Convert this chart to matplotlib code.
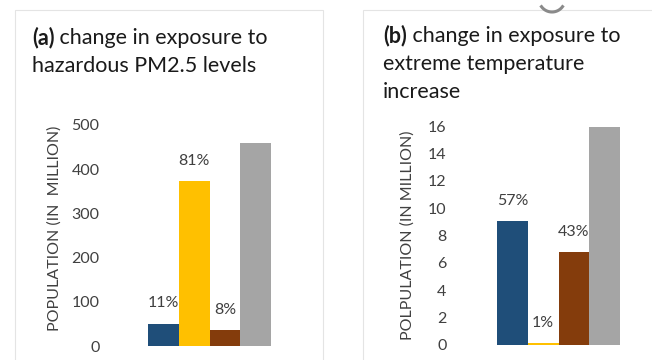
import numpy as np
import matplotlib
matplotlib.use("Agg")
import matplotlib.pyplot as plt
from matplotlib.patches import Rectangle

plt.rcParams['font.family'] = ['Lato', 'DejaVu Sans']

# population exposed (million): blue, yellow, brown, total (gray)
pm25_vals = [50.6, 372.6, 36.8, 460]
pm25_pct = ['11%', '81%', '8%', None]

temp_vals = [9.05, 0.15, 6.8, 15.9]
temp_pct = ['57%', '1%', '43%', None]

bar_colors = ['#1F4E79', '#FFC000', '#843C0C', '#A5A5A5']
txt_col = '#404040'

W, H = 652, 360
fig = plt.figure(figsize=(W / 100, H / 100), dpi=100)
fig.patch.set_facecolor('white')


def px_axes(x0, y0, x1, y1):
    return fig.add_axes([x0 / W, 1 - y1 / H, (x1 - x0) / W, (y1 - y0) / H])


def fx(x):
    return x / W


def fy(y):
    return 1 - y / H


# light panel frames
for x0, x1 in [(15, 323), (363, 720)]:
    fig.add_artist(Rectangle((fx(x0), fy(400)), fx(x1) - fx(x0), fy(10) - fy(400),
                             transform=fig.transFigure, fill=False,
                             edgecolor='#e4e4e4', linewidth=0.8))

# small handle arc at the top
t = np.linspace(np.pi * 0.2, np.pi * 0.8, 30)
fig.add_artist(plt.Line2D(fx(552 + 13 * np.cos(t)), fy(-1 + 13 * np.sin(t)),
                          transform=fig.transFigure, color='#8a8a8a', linewidth=2.2))


def draw_panel(ax, vals, pcts, ylim, ticks, xlim):
    x = np.arange(len(vals))
    ax.bar(x, vals, width=1.0, color=bar_colors)
    for xi, v, p in zip(x, vals, pcts):
        if p:
            ax.annotate(p, (xi, v), xytext=(0, 14.5), textcoords='offset points',
                        ha='center', va='center', fontsize=11.5, color=txt_col)
    ax.set_xlim(*xlim)
    ax.set_ylim(*ylim)
    ax.set_yticks(ticks)
    ax.set_xticks([])
    ax.tick_params(axis='y', length=0, pad=4, labelsize=11.5, labelcolor=txt_col)
    for s in ax.spines.values():
        s.set_visible(False)
    ax.patch.set_alpha(0)


ax_a = px_axes(105, 125, 305, 346)
draw_panel(ax_a, pm25_vals, pm25_pct, (0, 500), range(0, 501, 100), (-1.9, 4.6))

ax_b = px_axes(452, 126, 647, 345)
draw_panel(ax_b, temp_vals, temp_pct, (0, 16), range(0, 17, 2), (-1.96, 4.37))

fig.text(fx(55), fy(228), 'POPULATION (IN  MILLION)', rotation=90, ha='center',
         va='center', fontsize=11.5, color=txt_col)
fig.text(fx(408), fy(235), 'POLPULATION (IN MILLION)', rotation=90, ha='center',
         va='center', fontsize=11.5, color=txt_col)

renderer = fig.canvas.get_renderer()


def title(x, ys, tag, lines):
    tb = fig.text(fx(x), fy(ys[0]), tag, fontsize=15.5, fontweight='bold',
                  color='#1a1a1a', va='baseline')
    bb = tb.get_window_extent(renderer)
    fig.text(bb.x1 / W, fy(ys[0]), ' ' + lines[0], fontsize=15.5, color='#1a1a1a',
             va='baseline')
    for y, line in zip(ys[1:], lines[1:]):
        fig.text(fx(x), fy(y), line, fontsize=15.5, color='#1a1a1a', va='baseline')


title(32, [44, 72], '(a)', ['change in exposure to', 'hazardous PM2.5 levels'])
title(383, [42, 70, 98], '(b)', ['change in exposure to', 'extreme temperature',
                                 'increase'])

fig.savefig('out.png', dpi=100)
